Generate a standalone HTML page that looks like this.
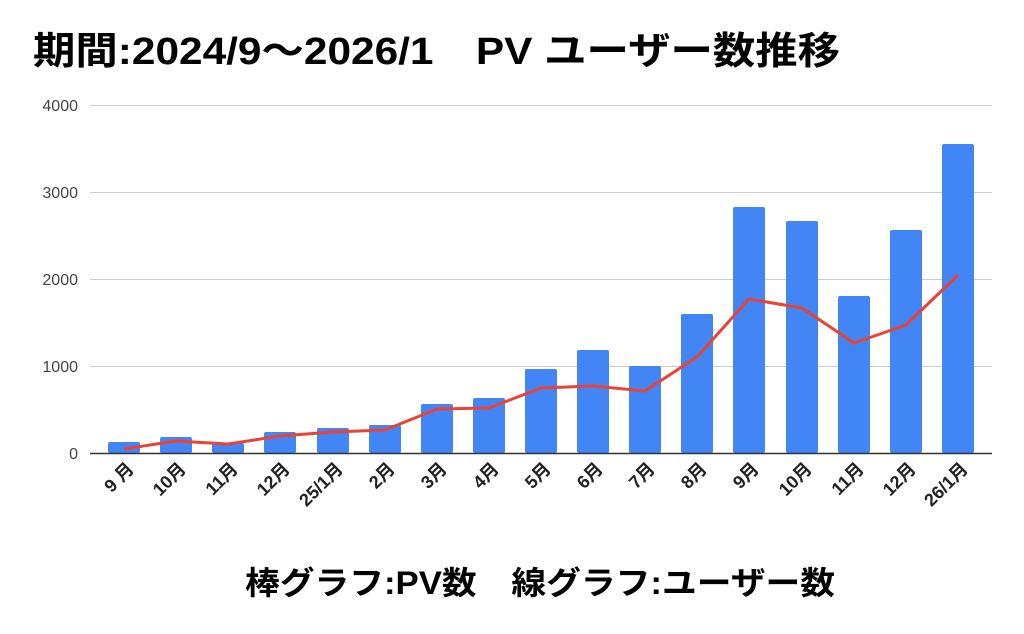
<!DOCTYPE html>
<html><head><meta charset="utf-8"><style>body{margin:0;background:#fff}svg{display:block}</style></head><body>
<svg width="1024" height="634" xmlns="http://www.w3.org/2000/svg" font-family="'Liberation Sans','Noto Sans CJK JP',sans-serif">
<text x="33" y="64" font-size="38" font-weight="bold" fill="#000" textLength="807" lengthAdjust="spacingAndGlyphs">期間:2024/9〜2026/1　PV  ユーザー数推移</text>
<g stroke="#ccc" stroke-width="1">
<line x1="90" y1="105.5" x2="992" y2="105.5"/><line x1="90" y1="192.5" x2="992" y2="192.5"/><line x1="90" y1="279.5" x2="992" y2="279.5"/><line x1="90" y1="366.5" x2="992" y2="366.5"/>
</g>
<g font-size="16" fill="#444" text-anchor="end">
<text x="78" y="111">4000</text><text x="78" y="198">3000</text><text x="78" y="285">2000</text><text x="78" y="372">1000</text><text x="78" y="459">0</text>
</g>
<g fill="#4285f4">
<rect x="108" y="442" width="32" height="11" rx="2"/>
<rect x="160" y="437" width="32" height="16" rx="2"/>
<rect x="212" y="443" width="32" height="10" rx="2"/>
<rect x="264" y="432" width="32" height="21" rx="2"/>
<rect x="317" y="428" width="32" height="25" rx="2"/>
<rect x="369" y="425" width="32" height="28" rx="2"/>
<rect x="421" y="404" width="32" height="49" rx="2"/>
<rect x="473" y="398" width="32" height="55" rx="2"/>
<rect x="525" y="369" width="32" height="84" rx="2"/>
<rect x="577" y="350" width="32" height="103" rx="2"/>
<rect x="629" y="366" width="32" height="87" rx="2"/>
<rect x="681" y="314" width="32" height="139" rx="2"/>
<rect x="733" y="207" width="32" height="246" rx="2"/>
<rect x="786" y="221" width="32" height="232" rx="2"/>
<rect x="838" y="296" width="32" height="157" rx="2"/>
<rect x="890" y="230" width="32" height="223" rx="2"/>
<rect x="942" y="144" width="32" height="309" rx="2"/>
</g>
<line x1="90" y1="453.5" x2="992" y2="453.5" stroke="#333" stroke-width="1.5"/>
<polyline fill="none" stroke="#ea4335" stroke-width="3" stroke-linejoin="round" points="124,449 176,441 228,444 280,436 333,432 385,430 437,409 489,408 541,388 593,386 645,391 697,357 749,299 802,308 854,343 906,325 958,275"/>
<g font-size="18" font-weight="bold" fill="#222" text-anchor="end">
<text transform="translate(135,470) rotate(-45)">9 月</text>
<text transform="translate(187,470) rotate(-45)">10月</text>
<text transform="translate(239,470) rotate(-45)">11月</text>
<text transform="translate(291,470) rotate(-45)">12月</text>
<text transform="translate(344,470) rotate(-45)">25/1月</text>
<text transform="translate(396,470) rotate(-45)">2月</text>
<text transform="translate(448,470) rotate(-45)">3月</text>
<text transform="translate(500,470) rotate(-45)">4月</text>
<text transform="translate(552,470) rotate(-45)">5月</text>
<text transform="translate(604,470) rotate(-45)">6月</text>
<text transform="translate(656,470) rotate(-45)">7月</text>
<text transform="translate(708,470) rotate(-45)">8月</text>
<text transform="translate(760,470) rotate(-45)">9月</text>
<text transform="translate(813,470) rotate(-45)">10月</text>
<text transform="translate(865,470) rotate(-45)">11月</text>
<text transform="translate(917,470) rotate(-45)">12月</text>
<text transform="translate(969,470) rotate(-45)">26/1月</text>
</g>
<text x="245" y="594" font-size="32" font-weight="bold" fill="#000" textLength="590" lengthAdjust="spacingAndGlyphs">棒グラフ:PV数　線グラフ:ユーザー数</text>
</svg>
</body></html>
